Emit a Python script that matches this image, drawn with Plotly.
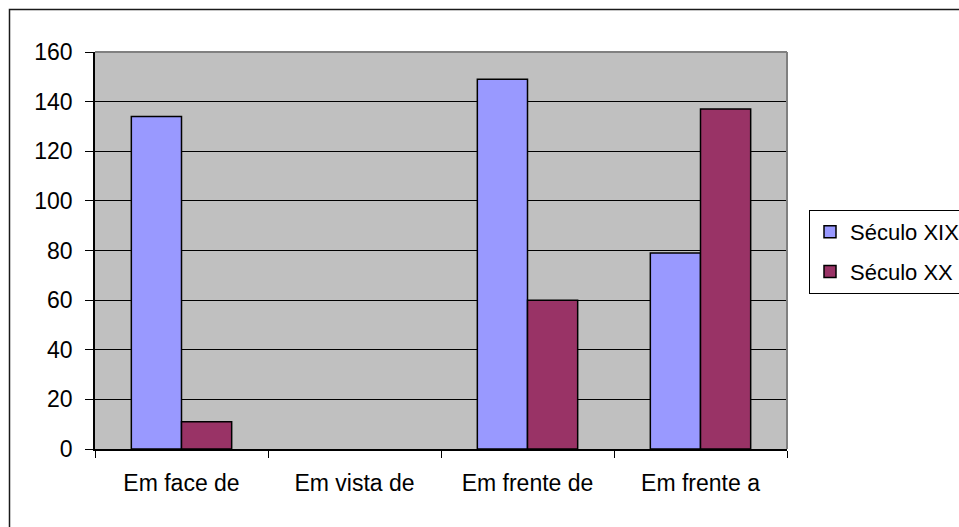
import plotly.graph_objects as go

categories = ["Em face de", "Em vista de", "Em frente de", "Em frente a"]
seculo_xix = [134, None, 149, 79]
seculo_xx = [11, None, 60, 137]
y_ticks = [0, 20, 40, 60, 80, 100, 120, 140, 160]

W, H = 959, 527
L, R, T, B = 95, 787, 52, 449
pw, ph = R - L, B - T

FONT = "Liberation Sans, Arial, sans-serif"
FS = 23

fig = go.Figure()
fig.add_trace(go.Bar(name="Século XIX", x=categories, y=seculo_xix,
                     marker=dict(color="#9999FF", line=dict(color="#000000", width=1.5)),
                     legendgroup="a"))
fig.add_trace(go.Bar(name="Século XX", x=categories, y=seculo_xx,
                     marker=dict(color="#993366", line=dict(color="#000000", width=1.5)),
                     legendgroup="b"))

def px_x(p):
    return (p - L) / pw

def px_y(p):
    return (B - p) / ph

shapes = [
    # outer chart border (extends beyond the visible window on right/bottom)
    dict(type="rect", xref="paper", yref="paper",
         x0=px_x(9.5), x1=px_x(975), y0=px_y(9.5), y1=px_y(545),
         line=dict(color="#1a1a1a", width=1.5), fillcolor="rgba(0,0,0,0)", layer="above"),
    # plot area top and right grey border
    dict(type="line", xref="paper", yref="paper", x0=0, x1=1, y0=1, y1=1,
         line=dict(color="#808080", width=2), layer="above"),
    dict(type="line", xref="paper", yref="paper", x0=1, x1=1, y0=0, y1=1,
         line=dict(color="#808080", width=2), layer="above"),
]

fig.update_layout(
    width=W, height=H,
    margin=dict(l=L, r=W - R, t=T, b=H - B, pad=0, autoexpand=False),
    paper_bgcolor="#FFFFFF",
    plot_bgcolor="#C0C0C0",
    barmode="group",
    bargap=0.42,
    bargroupgap=0,
    font=dict(family=FONT, size=FS, color="#000000"),
    shapes=shapes,
    legend=dict(
        x=px_x(809), y=px_y(210), xanchor="left", yanchor="top",
        bordercolor="#000000", borderwidth=1, bgcolor="#FFFFFF",
        font=dict(family=FONT, size=22, color="#000000"),
        traceorder="grouped", tracegroupgap=8,
    ),
    xaxis=dict(
        type="category",
        showline=True, linecolor="#000000", linewidth=1.5,
        ticks="outside", tickson="boundaries", ticklen=7, tickcolor="#000000", tickwidth=1,
        showgrid=False, ticklabelstandoff=13,
        tickfont=dict(family=FONT, size=FS, color="#000000"),
    ),
    yaxis=dict(
        range=[0, 160], tickvals=y_ticks,
        showline=True, linecolor="#000000", linewidth=1.5,
        ticks="outside", ticklen=8, tickcolor="#000000", tickwidth=1,
        showgrid=True, gridcolor="#000000", gridwidth=1,
        zeroline=False, ticklabelstandoff=8,
        tickfont=dict(family=FONT, size=FS, color="#000000"),
    ),
)

fig.write_html("out.html")
